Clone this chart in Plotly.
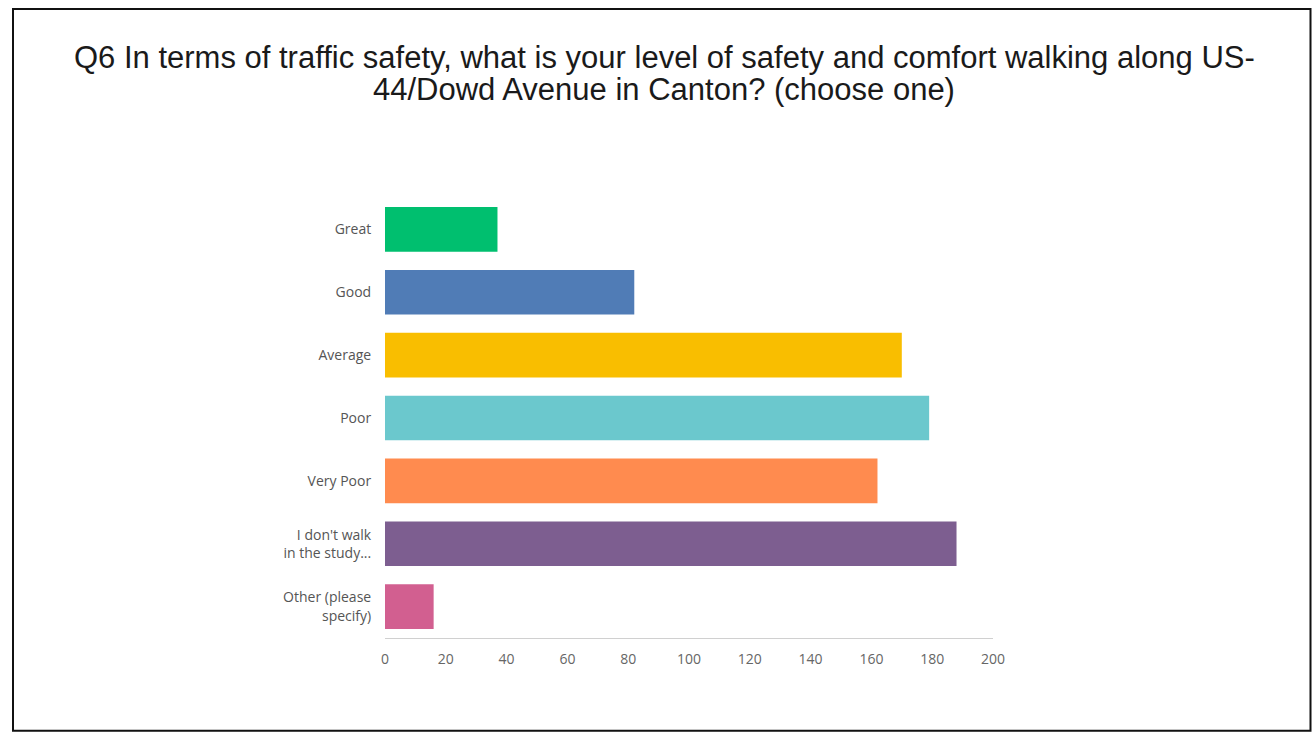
import plotly.graph_objects as go

categories = ["Great", "Good", "Average", "Poor", "Very Poor",
              "I don't walk<br>in the study...", "Other (please<br>specify)"]
values = [37, 82, 170, 179, 162, 188, 16]
colors = ["#00BF6F", "#507CB6", "#F9BE00", "#6BC8CD", "#FF8B4F", "#7D5E90", "#D25F90"]
x_ticks = [0, 20, 40, 60, 80, 100, 120, 140, 160, 180, 200]

title_lines = ["Q6 In terms of traffic safety, what is your level of safety and comfort walking along US-",
               "44/Dowd Avenue in Canton? (choose one)"]

fig = go.Figure(go.Bar(
    x=values, y=categories, orientation="h",
    marker=dict(color=colors, line=dict(width=0)),
    width=0.71, hoverinfo="x+y",
))

W, H = 1312, 733
L, R, T, B = 385, 319, 197.5, 94.5
pw, ph = W - L - R, H - T - B

def px_x(p):
    return (p - L) / pw

def px_y(p):
    return (H - B - p) / ph

annotations = []
for i, line in enumerate(title_lines):
    annotations.append(dict(
        text=line, xref="paper", yref="paper", x=px_x(664), y=px_y(57 + 32 * i),
        xanchor="center", yanchor="middle", showarrow=False,
        font=dict(family="Liberation Sans, Arial, sans-serif", size=31, color="#1a1a1a")))

fig.update_layout(
    width=W, height=H,
    margin=dict(l=L, r=R, t=T, b=B),
    paper_bgcolor="white", plot_bgcolor="white",
    showlegend=False,
    annotations=annotations,
    font=dict(family="Open Sans, sans-serif", size=14, color="#666666"),
    shapes=[dict(type="rect", xref="paper", yref="paper",
                 x0=px_x(13), x1=px_x(1310.5), y0=px_y(731.5), y1=px_y(8),
                 line=dict(color="#111111", width=2), fillcolor="rgba(0,0,0,0)", layer="below")],
)

fig.update_xaxes(range=[0, 200], tickvals=x_ticks, showgrid=False, zeroline=False,
                 showline=True, linecolor="#d0d0d0", linewidth=1,
                 ticks="outside", ticklen=8, tickcolor="rgba(0,0,0,0)",
                 tickfont=dict(size=14, color="#666666"), fixedrange=True)
fig.update_yaxes(categoryorder="array", categoryarray=categories, autorange="reversed",
                 showgrid=False, zeroline=False, showline=False,
                 ticks="outside", ticklen=10, tickcolor="rgba(0,0,0,0)",
                 tickfont=dict(size=14, color="#555555"), fixedrange=True)

fig.write_html("out.html", config={"displayModeBar": False},
               post_script="document.body.style.margin='0px';document.body.style.overflow='hidden';")
